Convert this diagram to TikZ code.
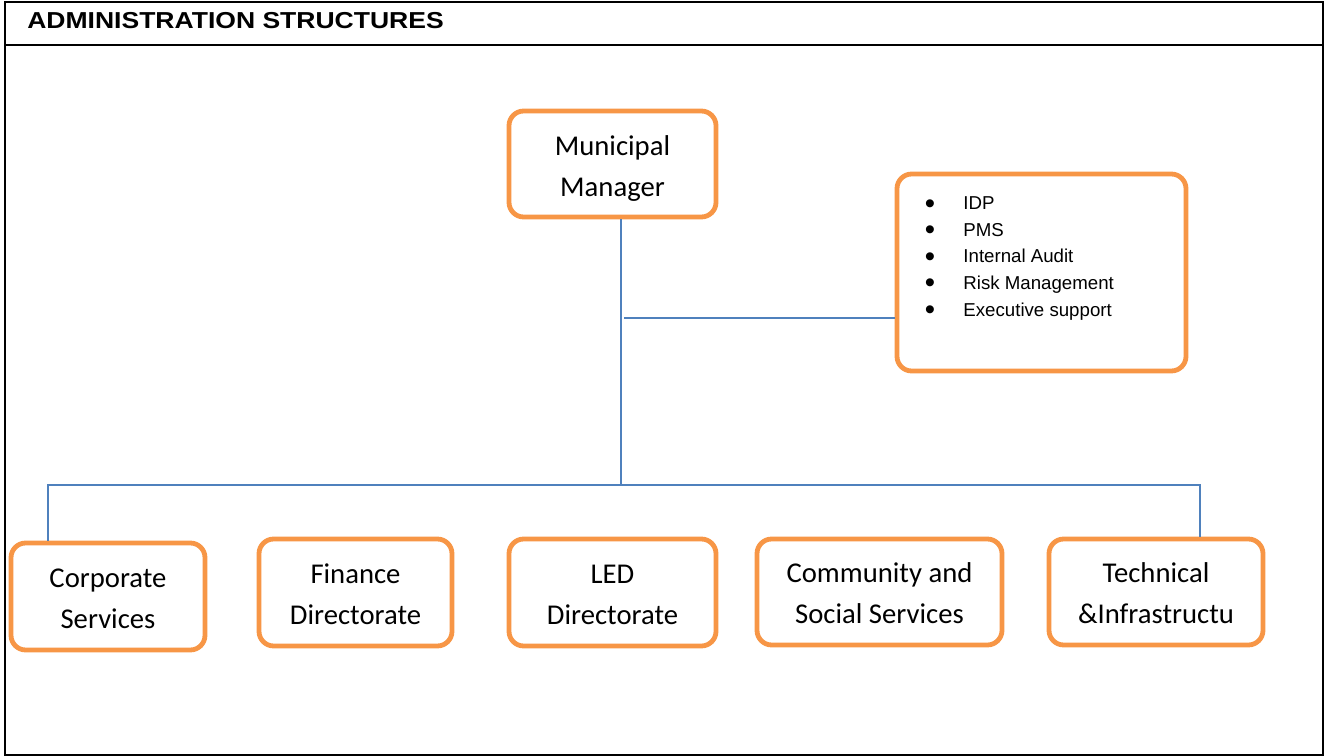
\documentclass[tikz,border=0pt]{standalone}
\usepackage{fontspec}
\setmainfont{Carlito}
\newfontfamily\arialfont{Liberation Sans}
\newfontfamily\arialwide[FakeStretch=1.15]{Liberation Sans}
\definecolor{boxorange}{HTML}{F79646}
\definecolor{linkblue}{HTML}{4F81BD}
% a strut that lowers the two-line labels inside their boxes
\newcommand{\lowerby}[1]{\rule{0pt}{#1}}
% one bullet of the office list
\newcommand{\officeitem}{\makebox[29pt][l]{\raisebox{-2.6pt}{\fontsize{22}{22}\selectfont\textbullet}}}
\begin{document}
\begin{tikzpicture}[x=0.75pt,y=-0.75pt,
  unitbox/.style={draw=boxorange, line width=3.6pt, rounded corners=11pt,
    fill=white, align=center, inner sep=0pt,
    font=\fontsize{21.5}{30.75}\selectfont},
  link/.style={draw=linkblue, line width=1.4pt},
  frameline/.style={draw=black, line width=1.6pt}]
\useasboundingbox (0,0) rectangle (1325,756);

% outer frame and header band
\draw[frameline] (5,2) rectangle (1323,755);
\draw[frameline] (5,45) -- (1323,45);
\node[anchor=base west, inner sep=0pt,
  font=\arialwide\bfseries\fontsize{17.3}{20}\selectfont] (title) at (27,29)
  {ADMINISTRATION STRUCTURES};

% top of the hierarchy
\node[unitbox, minimum width=155.25pt, minimum height=79.5pt] (mm) at (612.5,164)
  {\lowerby{21pt}Municipal\\Manager};

% office of the municipal manager (list anchored on its last baseline)
\node[unitbox, minimum width=216.75pt, minimum height=147.75pt] (ia) at (1041.5,272.5) {};
\node[anchor=base west, inner sep=0pt, align=left,
  font=\arialfont\fontsize{14}{19.9}\selectfont] (ialist) at (924.5,316)
  {\officeitem IDP\\
   \officeitem PMS\\
   \officeitem Internal Audit\\
   \officeitem Risk Management\\
   \officeitem Executive support};

% directorates
\node[unitbox, minimum width=145.5pt, minimum height=80.25pt] (corp) at (108,596.5)
  {\lowerby{17pt}Corporate\\Services};
\node[unitbox, minimum width=144.75pt, minimum height=80.25pt] (fin) at (355.5,592.5)
  {\lowerby{17pt}Finance\\Directorate};
\node[unitbox, minimum width=155.25pt, minimum height=80.25pt] (led) at (612.5,592.5)
  {\lowerby{17pt}LED\\Directorate};
\node[unitbox, minimum width=183.75pt, minimum height=79.5pt] (comm) at (879.5,592)
  {\lowerby{17pt}Community and\\Social Services};
\node[unitbox, minimum width=160.5pt, minimum height=79.5pt] (tech) at (1156,592)
  {\lowerby{17pt}Technical\\\&Infrastructu};

% connector junctions
\coordinate (hub) at (621,485);
\coordinate (tap) at (624,318);
\coordinate (busL) at (48,485);
\coordinate (busR) at (1200,485);

% connectors
\draw[link] (mm.south -| hub) -- (hub);
\draw[link] (tap) -- (tap -| ia.west);
\draw[link] (corp.north -| busL) -- (busL) -- (busR) -- (busR |- tech.north);
\end{tikzpicture}
\end{document}
